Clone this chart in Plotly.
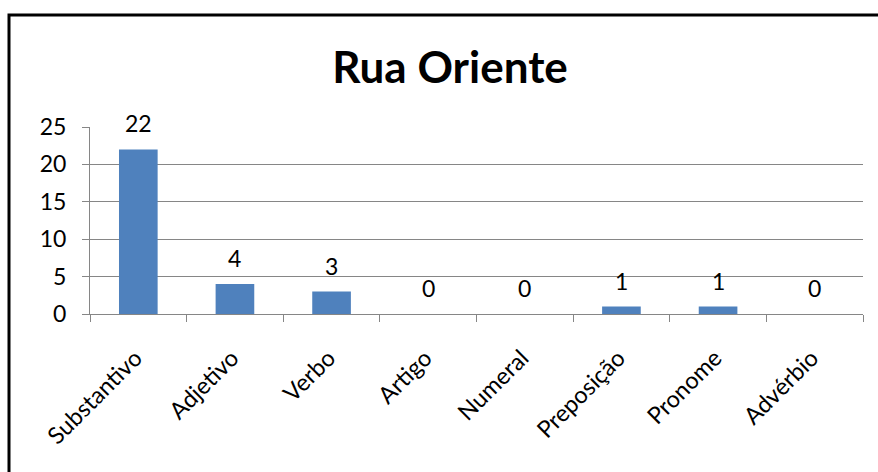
import plotly.graph_objects as go

# Word classes counted on Rua Oriente
categories = ["Substantivo", "Adjetivo", "Verbo", "Artigo", "Numeral",
              "Preposição", "Pronome", "Advérbio"]
counts = [22, 4, 3, 0, 0, 1, 1, 0]
y_ticks = [0, 5, 10, 15, 20, 25]

W, H = 878, 472
ML, MR, MT, MB = 90, 15, 127, 158
pw, ph = W - ML - MR, H - MT - MB

FONT = "Lato"
GRID = "#868686"

fig = go.Figure(go.Bar(
    x=categories,
    y=counts,
    marker=dict(color="#4F81BD", line=dict(width=0)),
    hoverinfo="x+y",
))

# value labels sitting above each bar
for cat, val in zip(categories, counts):
    fig.add_annotation(x=cat, y=val, text=str(val), showarrow=False,
                       xanchor="center", yanchor="bottom", yshift=10,
                       font=dict(family=FONT, size=23, color="#000000"))

# outer chart frame (only its top and left edges fall inside the page)
fx0 = (9 - ML) / pw
fy1 = (H - MB - 15) / ph
fig.add_shape(type="rect", xref="paper", yref="paper",
              x0=fx0, x1=1.5, y0=-2, y1=fy1,
              line=dict(color="#000000", width=3), layer="above")

fig.update_layout(
    width=W, height=H,
    margin=dict(l=ML, r=MR, t=MT, b=MB, pad=0),
    paper_bgcolor="white", plot_bgcolor="white",
    bargap=0.6,
    showlegend=False,
    title=dict(text="<b>Rua Oriente</b>", x=(450 - ML) / pw, xanchor="center",
               y=1 - 68 / H, yanchor="middle", xref="paper",
               font=dict(family=FONT, size=44, color="#000000")),
    font=dict(family=FONT, color="#000000"),
)

fig.update_xaxes(
    tickangle=-45,
    tickfont=dict(family=FONT, size=23.5, color="#000000"),
    ticklabelstandoff=20, ticklabelshift=-3,
    showline=True, linecolor=GRID, linewidth=1,
    ticks="outside", tickson="boundaries", ticklen=7, tickcolor=GRID,
    showgrid=False,
)
fig.update_yaxes(
    range=[0, 25],
    tickvals=y_ticks,
    tickfont=dict(family=FONT, size=23, color="#000000"),
    ticklabelstandoff=11,
    showline=True, linecolor=GRID, linewidth=1,
    ticks="outside", ticklen=7, tickcolor=GRID,
    showgrid=True, gridcolor=GRID, gridwidth=1,
    zeroline=False,
)

fig.write_html("out.html")
